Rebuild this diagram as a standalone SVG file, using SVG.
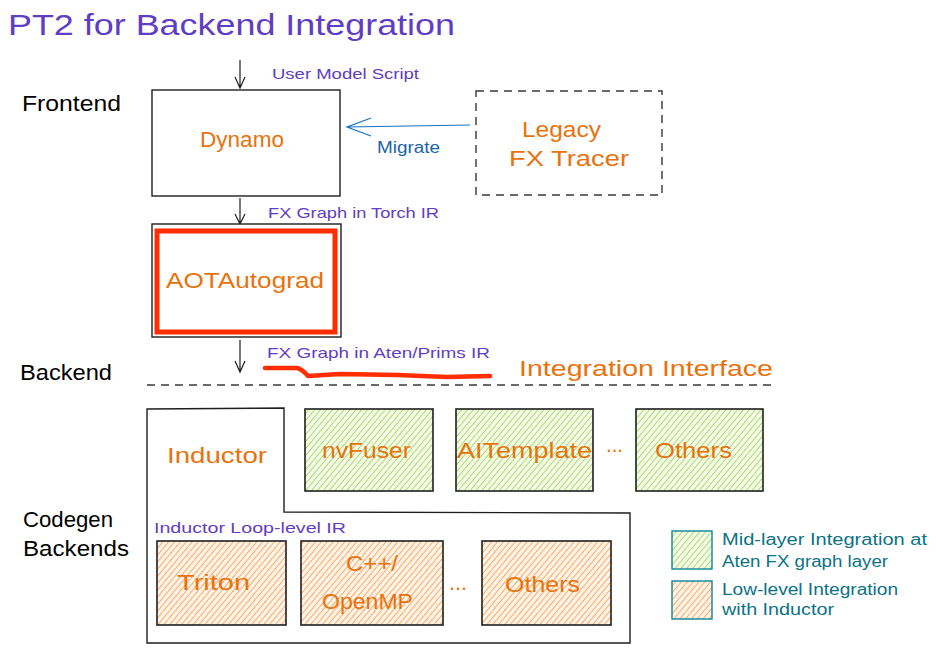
<svg xmlns="http://www.w3.org/2000/svg" width="936" height="656" viewBox="0 0 936 656">
<defs>
<style>
text{font-family:"Liberation Sans","DejaVu Sans",sans-serif;}
.ttl{fill:#5f3dc4;font-size:30px;}
.lbl{fill:#000;font-size:22px;}
.pur{fill:#5f3dc4;font-size:15px;}
.org{fill:#e8720c;font-size:22px;}
.blu{fill:#1864ab;font-size:16px;}
.leg{fill:#0b7285;font-size:16px;}
.box{fill:#fff;stroke:#1e1e1e;stroke-width:1.4;}
.gbox{fill:url(#hg);stroke:#1e1e1e;stroke-width:1.6;}
.obox{fill:url(#ho);stroke:#1e1e1e;stroke-width:1.6;}
.conn{fill:none;stroke:#1e1e1e;stroke-width:1.2;}
</style>
<pattern id="hg" patternUnits="userSpaceOnUse" width="4.5" height="4.5" patternTransform="rotate(40)">
<rect width="4.5" height="4.5" fill="#f4fbe9"/>
<line x1="0" y1="0" x2="0" y2="4.5" stroke="#82c91e" stroke-width="1.2"/>
</pattern>
<pattern id="ho" patternUnits="userSpaceOnUse" width="4.5" height="4.5" patternTransform="rotate(40)">
<rect width="4.5" height="4.5" fill="#fff3e8"/>
<line x1="0" y1="0" x2="0" y2="4.5" stroke="#fd7e14" stroke-width="1.2"/>
</pattern>
</defs>
<rect width="936" height="656" fill="#fff"/>

<text class="ttl" x="8" y="35" textLength="447" lengthAdjust="spacingAndGlyphs">PT2 for Backend Integration</text>
<text class="lbl" x="22" y="111" textLength="99" lengthAdjust="spacingAndGlyphs">Frontend</text>
<text class="lbl" x="20" y="380" textLength="92" lengthAdjust="spacingAndGlyphs">Backend</text>
<text class="lbl" x="23" y="527" textLength="90" lengthAdjust="spacingAndGlyphs">Codegen</text>
<text class="lbl" x="23" y="556" textLength="106" lengthAdjust="spacingAndGlyphs">Backends</text>

<g id="connectors">
<path class="conn" d="M240 60 L240 88 M235 77 L240 88 L245 77"/>
<path class="conn" d="M240 198 L240 224 M235 214 L240 224 L245 214"/>
<path class="conn" d="M240 340 L240 372 M235 361 L240 372 L245 361"/>
<path d="M470 125 L347 127 M371 118 L347 127 L371 136" fill="none" stroke="#1971c2" stroke-width="1.2"/>
<text class="blu" x="377" y="153" textLength="63" lengthAdjust="spacingAndGlyphs">Migrate</text>
<text class="pur" x="272" y="79" textLength="147" lengthAdjust="spacingAndGlyphs">User Model Script</text>
<text class="pur" x="268" y="218" textLength="171" lengthAdjust="spacingAndGlyphs">FX Graph in Torch IR</text>
<text class="pur" x="267" y="358" textLength="223" lengthAdjust="spacingAndGlyphs">FX Graph in Aten/Prims IR</text>
<path d="M265 368 L297 368 Q302 369 308 376 L340 374 L397 375 L447 377 L490 376" fill="none" stroke="#ff2d00" stroke-width="4.5" stroke-linecap="round" stroke-linejoin="round"/>
<text class="org" x="519" y="376" textLength="254" lengthAdjust="spacingAndGlyphs">Integration Interface</text>
<line x1="147" y1="385" x2="776" y2="385" stroke="#343a40" stroke-width="1.4" stroke-dasharray="8 6"/>
</g>

<g id="dynamo">
<rect class="box" x="152" y="90" width="188" height="106"/>
<text class="org" x="200" y="147" textLength="84" lengthAdjust="spacingAndGlyphs">Dynamo</text>
</g>

<g id="legacy">
<rect x="476" y="91" width="186" height="104" fill="#fff" stroke="#343a40" stroke-width="1.4" stroke-dasharray="8 6"/>
<text class="org" x="522" y="137" textLength="79" lengthAdjust="spacingAndGlyphs">Legacy</text>
<text class="org" x="509" y="166" textLength="120" lengthAdjust="spacingAndGlyphs">FX Tracer</text>
</g>

<g id="aotautograd">
<rect class="box" x="152" y="224" width="189" height="113"/>
<rect x="157" y="231" width="178" height="101" fill="#fff" stroke="#ff2d00" stroke-width="5"/>
<text class="org" x="166" y="288" textLength="158" lengthAdjust="spacingAndGlyphs">AOTAutograd</text>
</g>

<g id="inductor">
<path class="box" d="M147 409 L284 408 L284 512 L630 513 L630 643 L147 643 Z"/>
<text class="org" x="167" y="463" textLength="100" lengthAdjust="spacingAndGlyphs">Inductor</text>
<text class="pur" x="154" y="533" textLength="192" lengthAdjust="spacingAndGlyphs">Inductor Loop-level IR</text>
</g>

<g id="nvfuser">
<rect class="gbox" x="305" y="409" width="128" height="82"/>
<text class="org" x="322" y="458" textLength="89" lengthAdjust="spacingAndGlyphs">nvFuser</text>
</g>
<g id="aitemplate">
<rect class="gbox" x="456" y="409" width="137" height="82"/>
<text class="org" x="457" y="458" textLength="135" lengthAdjust="spacingAndGlyphs">AITemplate</text>
</g>
<text class="org" x="606" y="452" textLength="17" lengthAdjust="spacingAndGlyphs">...</text>
<g id="others1">
<rect class="gbox" x="636" y="409" width="127" height="82"/>
<text class="org" x="655" y="458" textLength="77" lengthAdjust="spacingAndGlyphs">Others</text>
</g>

<g id="triton">
<rect class="obox" x="157" y="541" width="129" height="84"/>
<text class="org" x="177" y="590" textLength="73" lengthAdjust="spacingAndGlyphs">Triton</text>
</g>
<g id="cpp">
<rect class="obox" x="301" y="541" width="142" height="84"/>
<text class="org" x="346" y="571" textLength="52" lengthAdjust="spacingAndGlyphs">C++/</text>
<text class="org" x="322" y="609" textLength="91" lengthAdjust="spacingAndGlyphs">OpenMP</text>
</g>
<text class="org" x="449" y="590" textLength="18" lengthAdjust="spacingAndGlyphs">...</text>
<g id="others2">
<rect class="obox" x="482" y="541" width="129" height="84"/>
<text class="org" x="505" y="592" textLength="75" lengthAdjust="spacingAndGlyphs">Others</text>
</g>

<g id="legend">
<rect x="672" y="531" width="40" height="38" fill="url(#hg)" stroke="#0c8599" stroke-width="1.4"/>
<rect x="672" y="581" width="40" height="38" fill="url(#ho)" stroke="#0c8599" stroke-width="1.4"/>
<text class="leg" x="722" y="545" textLength="205" lengthAdjust="spacingAndGlyphs">Mid-layer Integration at</text>
<text class="leg" x="722" y="567" textLength="166" lengthAdjust="spacingAndGlyphs">Aten FX graph layer</text>
<text class="leg" x="722" y="595" textLength="176" lengthAdjust="spacingAndGlyphs">Low-level Integration</text>
<text class="leg" x="722" y="615" textLength="112" lengthAdjust="spacingAndGlyphs">with Inductor</text>
</g>
</svg>
